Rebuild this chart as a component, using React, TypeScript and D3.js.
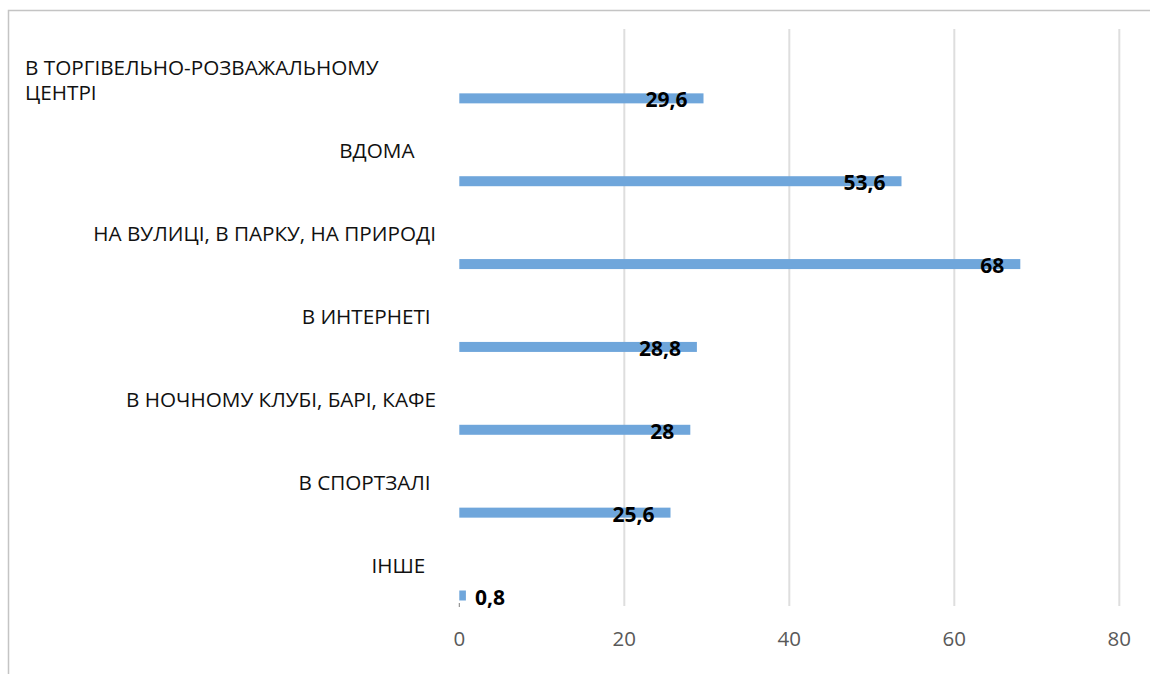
import React from "react";
import * as d3 from "d3";

// Where young people spend their free time (share of respondents, %)
const categories: string[] = [
  "В ТОРГІВЕЛЬНО-РОЗВАЖАЛЬНОМУ\nЦЕНТРІ",
  "ВДОМА    ",
  "НА ВУЛИЦІ, В ПАРКУ, НА ПРИРОДІ",
  "В ИНТЕРНЕТІ ",
  "В НОЧНОМУ КЛУБІ, БАРІ, КАФЕ",
  "В СПОРТЗАЛІ ",
  "ІНШЕ  ",
];
const values: number[] = [29.6, 53.6, 68, 28.8, 28, 25.6, 0.8];
const xTicks: number[] = [0, 20, 40, 60, 80];

const W = 1150;
const H = 674;
const FONT = "'Open Sans', 'DejaVu Sans', sans-serif";

export default function App() {
  const plotTop = 29;
  const plotBottom = 606;
  const x = d3.scaleLinear().domain([0, 80]).range([459.3, 1119.3]);
  const y = d3
    .scaleBand<number>()
    .domain(d3.range(categories.length))
    .range([26, plotBottom])
    .padding(0);
  const bw = y.bandwidth();
  const barH = 10;
  const barCenter = (i: number) => (y(i) as number) + bw - 10.5;
  const fmt = (v: number) => String(v).replace(".", ",");

  return (
    <svg
      width={W}
      height={H}
      style={{ position: "absolute", left: 0, top: 0, background: "#fff" }}
    >
      {/* chart frame */}
      <rect
        x={8.5}
        y={10.5}
        width={1300}
        height={800}
        fill="none"
        stroke="#c4c4c4"
        strokeWidth={1.5}
      />

      {/* vertical gridlines */}
      {xTicks
        .filter((t) => t !== 0)
        .map((t) => (
          <line
            key={`g${t}`}
            x1={x(t)}
            x2={x(t)}
            y1={plotTop}
            y2={plotBottom}
            stroke="#dedede"
            strokeWidth={2}
          />
        ))}
      <line
        x1={x(0)}
        x2={x(0)}
        y1={plotBottom - 3}
        y2={plotBottom + 1}
        stroke="#7f7f7f"
        strokeWidth={1}
      />

      {/* bars */}
      {values.map((v, i) => (
        <rect
          key={`b${i}`}
          x={x(0)}
          y={barCenter(i) - barH / 2}
          width={x(v) - x(0)}
          height={barH}
          fill="#6fa6db"
        />
      ))}

      {/* value labels */}
      {values.map((v, i) => {
        const end = x(v);
        const inside = end - x(0) > 50;
        return (
          <text
            key={`v${i}`}
            x={inside ? end - 16 : end + 9}
            y={barCenter(i) + 9}
            textAnchor={inside ? "end" : "start"}
            fontFamily={FONT}
            fontWeight={700}
            fontSize={21}
            fill="#000"
          >
            {fmt(v)}
          </text>
        );
      })}

      {/* category labels */}
      {categories.map((c, i) => {
        const lines = c.split("\n");
        const wrapped = lines.length > 1;
        return (
          <text
            key={`c${i}`}
            x={wrapped ? 25 : 436}
            y={barCenter(i) - 23}
            textAnchor={wrapped ? "start" : "end"}
            fontFamily={FONT}
            fontSize={20.7}
            fill="#111"
            style={{ whiteSpace: "pre" }}
          >
            {lines.map((ln, k) => (
              <tspan key={k} x={wrapped ? 25 : 436} dy={k === 0 ? 0 : 25}>
                {ln}
              </tspan>
            ))}
          </text>
        );
      })}

      {/* x axis tick labels */}
      {xTicks.map((t) => (
        <text
          key={`t${t}`}
          x={x(t)}
          y={646}
          textAnchor="middle"
          fontFamily={FONT}
          fontSize={20.5}
          fill="#595959"
        >
          {t}
        </text>
      ))}
    </svg>
  );
}
